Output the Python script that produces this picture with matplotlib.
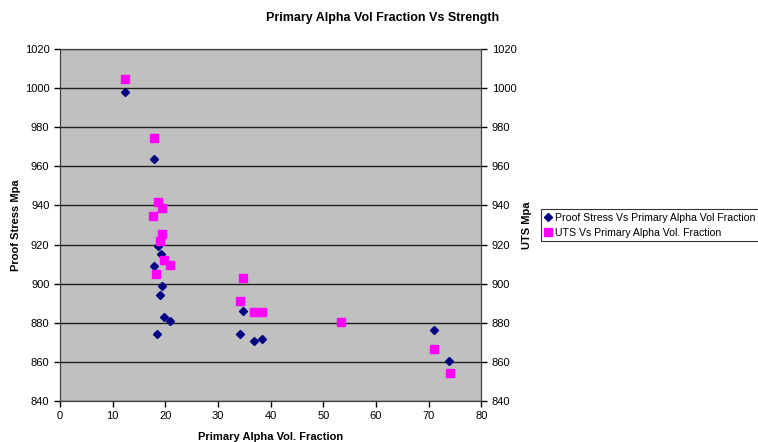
import matplotlib
matplotlib.use('Agg')
import matplotlib.pyplot as plt

plt.rcParams['font.family'] = ['Liberation Sans', 'DejaVu Sans']

# Proof stress series (left axis)
ps_frac = [12.3, 17.8, 18.6, 19.2, 17.8, 19.3, 19.0, 19.8, 20.9, 18.5,
           34.7, 34.2, 36.9, 38.3, 71.0, 73.9]
ps_val = [998, 964, 919, 915, 909, 899, 894, 883, 881, 874,
          886, 874, 870.5, 871.5, 876.5, 860.5]

# UTS series (right axis)
uts_frac = [12.4, 17.8, 18.6, 19.3, 17.7, 19.3, 19.0, 19.8, 20.9, 18.3,
            34.8, 34.2, 36.9, 38.4, 53.4, 71.0, 74.0]
uts_val = [1004.5, 974.5, 941.5, 938.5, 934.5, 925.5, 922, 912, 909.5, 905,
           903, 891, 885.5, 885.5, 880.5, 866.5, 854.5]

x_ticks = [0, 10, 20, 30, 40, 50, 60, 70, 80]
y_ticks = [840, 860, 880, 900, 920, 940, 960, 980, 1000, 1020]

fig = plt.figure(figsize=(7.58, 4.42), dpi=100)
ax = fig.add_axes([0.079, 0.093, 0.556, 0.796])
ax.set_facecolor('#C0C0C0')
ax2 = ax.twinx()

ax.set_axisbelow(True)
ax.grid(axis='y', color='#202020', linewidth=1)
ax.grid(axis='x', visible=False)

l1, = ax.plot(ps_frac, ps_val, linestyle='none', marker='D', markersize=4,
              color='#000080', label='Proof Stress Vs Primary Alpha Vol Fraction')
l2, = ax2.plot(uts_frac, uts_val, linestyle='none', marker='s', markersize=5.5,
               color='#FF00FF', label='UTS Vs Primary Alpha Vol. Fraction')

for a in (ax, ax2):
    a.set_xlim(0, 80)
    a.set_ylim(840, 1020)
    a.set_yticks(y_ticks)
    a.tick_params(labelsize=8, length=4, width=1, direction='out')
    for s in a.spines.values():
        s.set_color('#404040')
ax.set_xticks(x_ticks)

ax.set_ylabel('Proof Stress Mpa', fontsize=8, fontweight='bold', labelpad=3)
ax2.set_ylabel('UTS Mpa', fontsize=8, fontweight='bold', labelpad=4)
ax.set_xlabel('Primary Alpha Vol. Fraction', fontsize=8, fontweight='bold', labelpad=8)

fig.text(0.505, 0.96, 'Primary Alpha Vol Fraction Vs Strength', ha='center', va='center',
         fontsize=9, fontweight='bold')

leg = fig.legend(handles=[l1, l2], loc='upper left', bbox_to_anchor=(0.714, 0.527),
                 fontsize=7.6, frameon=True, fancybox=False, borderpad=0.35,
                 handlelength=0.6, handletextpad=0.4, labelspacing=0.45, borderaxespad=0)
leg.get_frame().set_edgecolor('black')
leg.get_frame().set_linewidth(0.8)

fig.savefig('out.png', dpi=100)
